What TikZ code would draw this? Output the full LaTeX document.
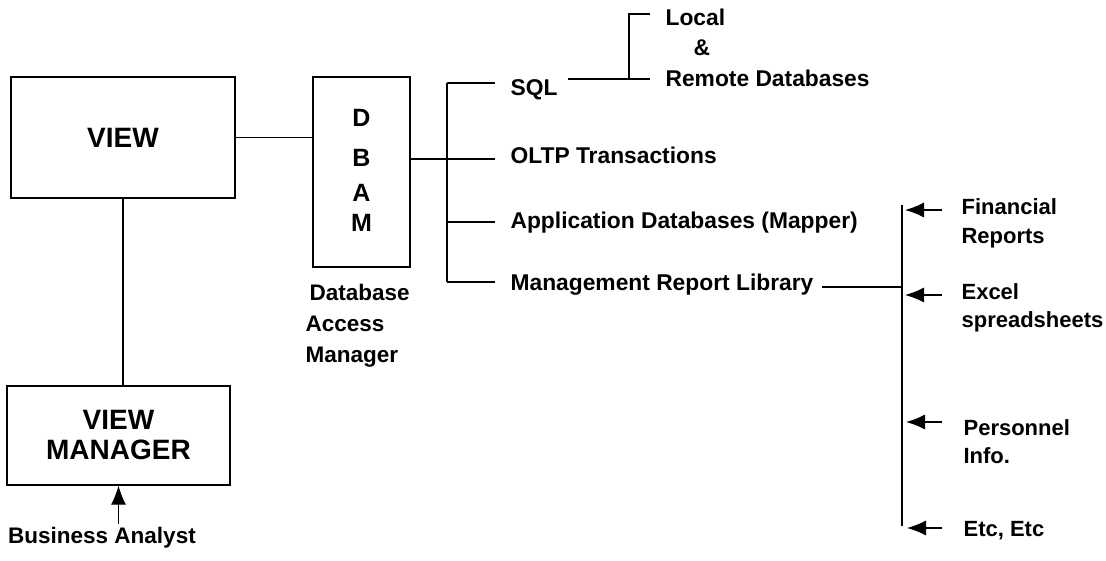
\documentclass[tikz,border=0pt]{standalone}
\usepackage{fontspec}
\setmainfont{Liberation Sans}
\usetikzlibrary{arrows.meta}
\begin{document}
\begin{tikzpicture}[x=1pt,y=-1pt,line width=1.2pt,
  box/.style={draw,inner sep=0pt},
  bigtxt/.style={font=\bfseries\fontsize{28}{30}\selectfont,align=center},
  lbl/.style={font=\bfseries\fontsize{22.8}{27}\selectfont,anchor=west,inner sep=0pt,text height=16pt,text depth=0pt,align=left},
  rlbl/.style={lbl,font=\bfseries\fontsize{22}{27}\selectfont},
  arr/.style={-{Latex[length=19pt,width=15pt]}}]
\useasboundingbox (0,0) rectangle (1106,561);

% boxes
\node[box,bigtxt,minimum width=224pt,minimum height=121pt] (view) at (123,137.5) {VIEW};
\node[box,minimum width=97pt,minimum height=190pt] (dbam) at (361.5,172) {};
\node[font=\bfseries\fontsize{25}{35}\selectfont,align=center,inner sep=0pt] (dbamtxt) at (361.5,170) {D\\[5pt]B\\A\\[-5pt]M};
\node[box,bigtxt,minimum width=223pt,minimum height=99pt] (vm) at (118.5,435.5) {VIEW\\MANAGER};
\node[font=\bfseries\fontsize{22.5}{31}\selectfont,align=left,inner sep=0pt,anchor=north west] (dam) at (305,284) {\hspace*{4pt}Database\\Access\\Manager};
\node[font=\bfseries\fontsize{22.5}{27}\selectfont,inner sep=0pt] (ba) at (102,538) {Business Analyst};

% left connectors
\draw (view.east) -- (dbam.west |- view.east);
\draw (view.south) -- (view.south |- vm.north);
\draw[arr,shorten <=3pt] (vm.south |- ba.north) -- (vm.south);

% trunk
\coordinate (tmid) at (447,159);
\coordinate (ttop) at (447,83);
\coordinate (tapp) at (447,222);
\coordinate (tbot) at (447,282);
\draw (dbam.east |- tmid) -- (tmid);
\draw (ttop) -- (tbot);

% branch labels
\node[lbl] (sql) at (510,88) {SQL};
\node[lbl] (oltp) at (510,156) {OLTP Transactions};
\node[lbl] (app) at (510,221) {Application Databases (Mapper)};
\node[lbl] (mrl) at (510,283) {Management Report Library};
\draw (ttop) -- ++(48,0) coordinate (sqlend);
\draw (tmid) -- (tmid -| sqlend);
\draw (tapp) -- (tapp -| sqlend);
\draw (tbot) -- (tbot -| sqlend);

% SQL -> local & remote
\node[lbl] (loc) at (665,18) {Local};
\node[lbl] (amp) at (693,48) {\&};
\node[lbl] (rem) at (665,79) {Remote Databases};
\coordinate (brk) at (629,79);
\coordinate (brktop) at (629,14);
\draw ([xshift=10pt]sql.east |- rem.west) -- ([xshift=-15pt]rem.west);
\draw (brk) -- (brktop) -- ([xshift=-15pt]brktop -| loc.west);

% report library trunk
\coordinate (r2mid) at (902,287);
\coordinate (r2top) at (902,205);
\coordinate (r2bot) at (902,526);
\draw ([xshift=8pt]mrl.east |- r2mid) -- (r2mid);
\draw (r2top) -- (r2bot);

\node[rlbl] (fin) at (961,207) {Financial};
\node[rlbl] (rep) at (961,236) {Reports};
\node[rlbl] (exc) at (961,292) {Excel};
\node[rlbl] (spr) at (961,320) {spreadsheets};
\node[rlbl] (per) at (963,427) {Personnel};
\node[rlbl] (inf) at (963,455) {Info.};
\node[rlbl] (etc) at (963,528) {Etc, Etc};

\draw[arr] ([xshift=-19pt]fin.west |- 0,210) -- (905,210);
\draw[arr] ([xshift=-19pt]exc.west |- 0,295) -- (905,295);
\draw[arr] ([xshift=-21pt]per.west |- 0,422) -- (906,422);
\draw[arr] ([xshift=-21pt]etc.west |- 0,528) -- (907,528);
\end{tikzpicture}
\end{document}
